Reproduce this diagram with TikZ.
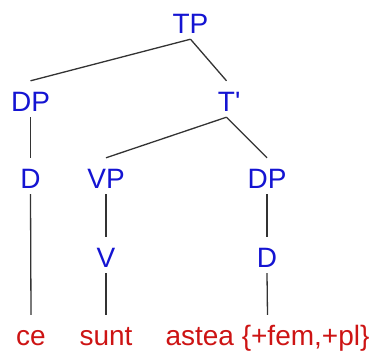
\documentclass[tikz,border=0pt]{standalone}
\usepackage{fontspec}
\setmainfont{Liberation Sans}
\definecolor{catblue}{RGB}{20,20,210}
\definecolor{wordred}{RGB}{205,20,20}
\begin{document}
\begin{tikzpicture}[x=1pt,y=-1pt,
  lbl/.style={inner sep=0pt, anchor=base, font=\fontsize{28}{30}\selectfont, text height=20pt, text depth=0pt},
  cat/.style={lbl, text=catblue},
  word/.style={lbl, text=wordred},
  edge/.style={draw=black!80, line width=1.3pt}]
\useasboundingbox (0,0) rectangle (375,354);
\node[cat] (TP) at (190.5,33) {TP};
\node[cat] (DPa) at (30.5,111) {DP};
\node[cat] (Tb) at (226.5,111) {T\rlap{\XeTeXglyph\XeTeXglyphindex "quotesingle"\relax}};
\node[cat] (Da) at (30.5,188) {D};
\node[cat] (VP) at (106,188) {VP};
\node[cat] (DPb) at (267,188) {DP};
\node[cat] (V) at (106,267) {V};
\node[cat] (Db) at (267,267) {D};
\node[word] (ce) at (31,345) {ce};
\node[word] (sunt) at (106,345) {sunt};
\node[word] (astea) at (267.5,345) {astea \{+fem,+pl\}};
\draw[edge] ([yshift=-6pt]TP.south) -- ([yshift=10pt]DPa.north);
\draw[edge] ([yshift=-6pt]TP.south) -- ([yshift=10pt]Tb.north);
\draw[edge] ([yshift=-6pt]Tb.south) -- ([yshift=10pt]VP.north);
\draw[edge] ([yshift=-6pt]Tb.south) -- ([yshift=10pt]DPb.north);
\draw[edge] ([yshift=-6pt]DPa.south) -- ([yshift=10pt]Da.north);
\draw[edge] ([yshift=-6pt]Da.south) -- ([yshift=10pt]ce.north);
\draw[edge] ([yshift=-6pt]VP.south) -- ([yshift=10pt]V.north);
\draw[edge] ([yshift=-6pt]V.south) -- ([yshift=10pt]sunt.north);
\draw[edge] ([yshift=-6pt]DPb.south) -- ([yshift=10pt]Db.north);
\draw[edge] ([yshift=-6pt]Db.south) -- ([yshift=10pt]astea.north);
\end{tikzpicture}
\end{document}
